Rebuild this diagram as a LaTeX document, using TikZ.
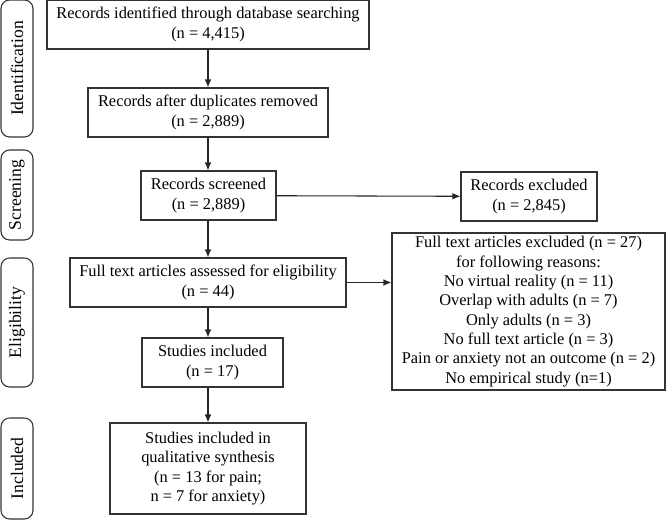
\documentclass[tikz,border=0pt]{standalone}
\usepackage{fontspec}
\setmainfont{Liberation Serif}
\usetikzlibrary{arrows.meta}

\tikzset{
    box/.style={draw=black!80, line width=0.8pt, align=center, inner sep=2pt,
        font=\fontsize{12.3}{14.5}\selectfont, minimum height=36.75pt},
    phase/.style={draw=black!80, line width=0.8pt, rounded corners=6.5pt, rotate=90,
        inner sep=0pt, minimum height=24pt, font=\fontsize{13.2}{15}\selectfont},
    flow/.style={line width=0.8pt, draw=black!85, -{Latex[length=6pt,width=5pt]}}
}

\begin{document}
\begin{tikzpicture}[x=0.75pt, y=-0.75pt]
        \useasboundingbox (0,0) rectangle (666,522);

        % phases on the left
        \node[phase, minimum width=102.75pt] (ident) at (17, 68.5) {Identification};
        \node[phase, minimum width=67.5pt] (screen) at (17, 195) {Screening};
        \node[phase, minimum width=96.75pt] (elig) at (17, 322.5) {Eligibility};
        \node[phase, minimum width=75.75pt] (incl) at (17, 468.5) {Included};

        % main column
        \node[box, minimum width=241.5pt] (found) at (208, 24.5) {Records identified through database searching\\(n = 4,415)};
        \node[box, minimum width=180pt] (dupl) at (208, 112.5) {Records after duplicates removed\\(n = 2,889)};
        \node[box, minimum width=101.25pt] (screened) at (208.5, 195.5) {Records screened\\(n = 2,889)};
        \node[box, minimum width=207pt] (assessed) at (208, 282.5) {Full text articles assessed for eligibility\\(n = 44)};
        \node[box, minimum width=105.75pt] (studies) at (212.5, 362.5) {Studies included\\(n = 17)};
        \node[box, minimum width=147pt, minimum height=68.25pt] (synth) at (208, 468.5) {Studies included in\\qualitative synthesis\\(n = 13 for pain;\\n = 7 for anxiety)};

        % exclusions
        \node[box, minimum width=102pt] (recexcl) at (529, 196.5) {Records excluded\\(n = 2,845)};
        \node[box, minimum width=204.75pt, minimum height=117.75pt] (fullexcl) at (528.5, 311.5) {Full text articles excluded (n = 27)\\for following reasons:\\No virtual reality (n = 11)\\Overlap with adults (n = 7)\\Only adults (n = 3)\\No full text article (n = 3)\\Pain or anxiety not an outcome (n = 2)\\No empirical study (n=1)};

        \draw[flow] (found) -- (dupl);
        \draw[flow] (dupl) -- (dupl.south |- screened.north);
        \draw[flow] (dupl.south |- screened.south) -- (assessed.north);
        \draw[flow] (assessed.south) -- (assessed.south |- studies.north);
        \draw[flow] (assessed.south |- studies.south) -- (synth.north);
        \draw[flow] (screened) -- (recexcl);
        \draw[flow] (assessed.east) -- (fullexcl.west |- assessed.east);
    \end{tikzpicture}
\end{document}
